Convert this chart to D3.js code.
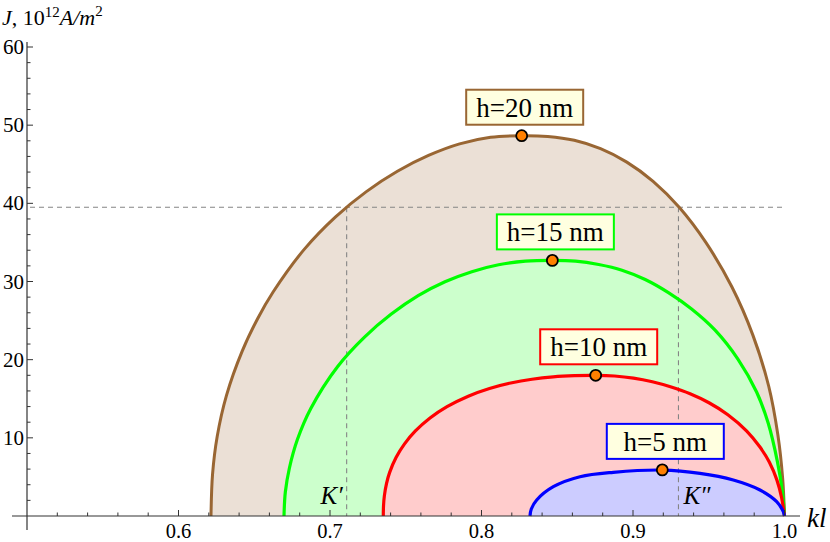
<!DOCTYPE html>
<html>
<head>
<meta charset="utf-8">
<script src="https://cdn.jsdelivr.net/npm/d3@7"></script>
<style>
  html, body { margin: 0; padding: 0; background: #fff; }
</style>
</head>
<body>
<svg id="chart" width="830" height="542"></svg>
<script>
// ---------- data ----------
const seriesNames = ["h=20 nm", "h=15 nm", "h=10 nm", "h=5 nm"];

const kl_h20 = [0.62145, 0.62248, 0.62554, 0.63168, 0.64198, 0.65221, 0.66244, 0.68297, 0.7035, 0.724, 0.74449, 0.76502, 0.78554, 0.80601, 0.82653,
                0.84373, 0.86123, 0.87857, 0.89591, 0.91327, 0.93063, 0.94796, 0.96531, 0.97918, 0.98959, 0.99566, 0.99878, 1.0];
const J_h20  = [0, 5.35, 10.17, 15.43, 21.06, 25.24, 28.65, 34.11, 38.24, 41.5, 44.1, 46.12, 47.6, 48.45, 48.65,
                48.55, 48.06, 46.99, 45.27, 42.81, 39.46, 35.03, 29.29, 23.11, 16.6, 10.32, 4.8, 0];

const kl_h15 = [0.66964, 0.67052, 0.67318, 0.67848, 0.68733, 0.70508, 0.72277, 0.74046, 0.75819, 0.77591, 0.7936, 0.81129, 0.82902, 0.84677,
                0.86205, 0.87736, 0.89272, 0.90805, 0.92337, 0.93868, 0.95402, 0.96935, 0.98158, 0.98927, 0.99538, 0.99848, 1.0];
const J_h15  = [0, 3.07, 6.11, 9.78, 13.76, 19.13, 22.89, 25.83, 28.19, 29.97, 31.26, 32.14, 32.6, 32.7,
                32.6, 32.17, 31.45, 30.26, 28.58, 26.49, 23.81, 20.05, 15.86, 11.86, 6.9, 3.3, 0];

const kl_h10 = [0.73518, 0.73532, 0.73588, 0.73729, 0.73938, 0.74359, 0.7492, 0.75621, 0.76602, 0.77724, 0.79126, 0.80528, 0.8193, 0.83332, 0.84734, 0.86136, 0.87538,
                0.88785, 0.90031, 0.91277, 0.92523, 0.93769, 0.95015, 0.96261, 0.97508, 0.98381, 0.99004, 0.99502, 0.99813, 1.0];
const J_h10  = [0, 1.28, 2.58, 4.15, 5.58, 7.48, 9.23, 10.85, 12.54, 13.99, 15.33, 16.31, 17.01, 17.5, 17.81, 17.96, 18.0,
                17.91, 17.64, 17.17, 16.5, 15.64, 14.49, 12.96, 10.87, 8.82, 6.87, 4.59, 2.3, 0];

const kl_h5 = [0.832, 0.83287, 0.83644, 0.8474, 0.86502, 0.887, 0.91934, 0.94422, 0.9662, 0.98383, 0.99485, 0.99921, 1.0];
const J_h5  = [0, 0.9, 2.05, 3.75, 5.03, 5.59, 5.88, 5.46, 4.61, 3.33, 1.83, 0.55, 0];

const peakKl = [0.82653, 0.84677, 0.87538, 0.91934];
const peakJ  = [48.65, 32.7, 18.0, 5.9];

const levelJ = 39.5;          // dashed horizontal level
const kPrime = 0.711;         // K'
const kDouble = 0.930;        // K''

const xMajorTicks = [0.6, 0.7, 0.8, 0.9, 1.0];
const xTickLabels = ["0.6", "0.7", "0.8", "0.9", "1.0"];
const yMajorTicks = [10, 20, 30, 40, 50, 60];
const yTickLabels = ["10", "20", "30", "40", "50", "60"];

// ---------- styles ----------
const FONT = "'Liberation Serif', 'DejaVu Serif', 'Times New Roman', Times, serif";
const strokeColors = ["#996633", "#00ff00", "#ff0000", "#0000ff"];
const fillColors   = ["#ebe0d6", "#ccffcc", "#ffcccc", "#ccccff"];
const strokeWidths = [3, 3.2, 3.2, 3.2];

const svg = d3.select("#chart");
const x = d3.scaleLinear().domain([0.6, 1.0]).range([178.5, 784.5]);
const y = d3.scaleLinear().domain([0, 60]).range([516, 47]);

const series = [
  kl_h20.map((k, i) => [k, J_h20[i]]),
  kl_h15.map((k, i) => [k, J_h15[i]]),
  kl_h10.map((k, i) => [k, J_h10[i]]),
  kl_h5.map((k, i) => [k, J_h5[i]])
];

const curve = d3.curveCatmullRom.alpha(0.5);
const area = d3.area().x(d => x(d[0])).y0(y(0)).y1(d => y(d[1])).curve(curve);
const line = d3.line().x(d => x(d[0])).y(d => y(d[1])).curve(curve);

// filled regions (drawn outermost first)
series.forEach((s, i) => {
  svg.append("path").attr("d", area(s)).attr("fill", fillColors[i]).attr("stroke", "none");
});

// dashed guides
const g = svg.append("g").attr("stroke", "#858585").attr("stroke-width", 1.1).attr("stroke-dasharray", "5,4").attr("fill", "none");
g.append("line").attr("x1", x(0.5) + 3).attr("x2", x(1.0)).attr("y1", y(levelJ)).attr("y2", y(levelJ));
g.append("line").attr("x1", x(kPrime)).attr("x2", x(kPrime)).attr("y1", y(levelJ)).attr("y2", y(0));
g.append("line").attr("x1", x(kDouble)).attr("x2", x(kDouble)).attr("y1", y(levelJ)).attr("y2", y(0));

// curves
series.forEach((s, i) => {
  svg.append("path").attr("d", line(s)).attr("fill", "none")
    .attr("stroke", strokeColors[i]).attr("stroke-width", strokeWidths[i]).attr("stroke-linejoin", "round");
});

function txt(xp, yp, size, str, anchor, italic) {
  return svg.append("text").attr("x", xp).attr("y", yp)
    .style("font-family", FONT)
    .attr("font-size", size).attr("text-anchor", anchor || "start")
    .attr("font-style", italic ? "italic" : "normal").attr("fill", "#000").text(str);
}

// K labels
txt(x(kPrime) - 4, y(0) - 12, 25, "K\u2032", "end", true);
txt(x(kDouble) + 5, y(0) - 12, 25, "K\u2033", "start", true);

// axes
const axisG = svg.append("g").attr("stroke", "#333").attr("stroke-width", 1.2);
axisG.append("line").attr("x1", 12).attr("x2", 800).attr("y1", y(0)).attr("y2", y(0));
axisG.append("line").attr("x1", x(0.5)).attr("x2", x(0.5)).attr("y1", 42).attr("y2", 530);

const xMinor = d3.range(0.52, 1.0001, 0.02).filter(v => !xMajorTicks.some(m => Math.abs(m - v) < 1e-6));
xMinor.forEach(v => axisG.append("line").attr("x1", x(v)).attr("x2", x(v)).attr("y1", y(0)).attr("y2", y(0) - 3.5).attr("stroke-width", 1));
xMajorTicks.forEach(v => axisG.append("line").attr("x1", x(v)).attr("x2", x(v)).attr("y1", y(0)).attr("y2", y(0) - 6).attr("stroke-width", 1));

const yMinor = d3.range(2, 60.001, 2).filter(v => !yMajorTicks.includes(v));
yMinor.forEach(v => axisG.append("line").attr("x1", x(0.5)).attr("x2", x(0.5) + 3.5).attr("y1", y(v)).attr("y2", y(v)).attr("stroke-width", 1));
yMajorTicks.forEach(v => axisG.append("line").attr("x1", x(0.5)).attr("x2", x(0.5) + 6).attr("y1", y(v)).attr("y2", y(v)).attr("stroke-width", 1));

xMajorTicks.forEach((v, i) => txt(x(v), 537.5, 20.5, xTickLabels[i], "middle"));
yMajorTicks.forEach((v, i) => txt(x(0.5) - 3, y(v) + 7, 21, yTickLabels[i], "end"));

// axis titles
const yt = svg.append("text").attr("x", 2).attr("y", 25).style("font-family", FONT).attr("font-size", 22).attr("fill", "#000");
yt.append("tspan").attr("font-style", "italic").text("J");
yt.append("tspan").text(", 10");
yt.append("tspan").attr("font-size", 15).attr("dy", -8).text("12");
yt.append("tspan").attr("font-style", "italic").attr("font-size", 22).attr("dy", 8).text("A/m");
yt.append("tspan").attr("font-size", 15).attr("dy", -9).text("2");

txt(807, 527, 27, "kl", "start", true);

// peak markers and labels
peakKl.forEach((k, i) => {
  const px = x(k), py = y(peakJ[i]);
  const bw = 117, bh = 35;
  const bx = px + 3 - bw / 2, by = py - 11 - bh;
  svg.append("rect").attr("x", bx).attr("y", by).attr("width", bw).attr("height", bh)
    .attr("fill", "#ffffe0").attr("stroke", strokeColors[i]).attr("stroke-width", 2);
  txt(bx + bw / 2, by + bh - 8, 27, seriesNames[i], "middle");
  svg.append("circle").attr("cx", px).attr("cy", py).attr("r", 5.5)
    .attr("fill", "#ff8000").attr("stroke", "#000").attr("stroke-width", 1.8);
});
</script>
</body>
</html>
